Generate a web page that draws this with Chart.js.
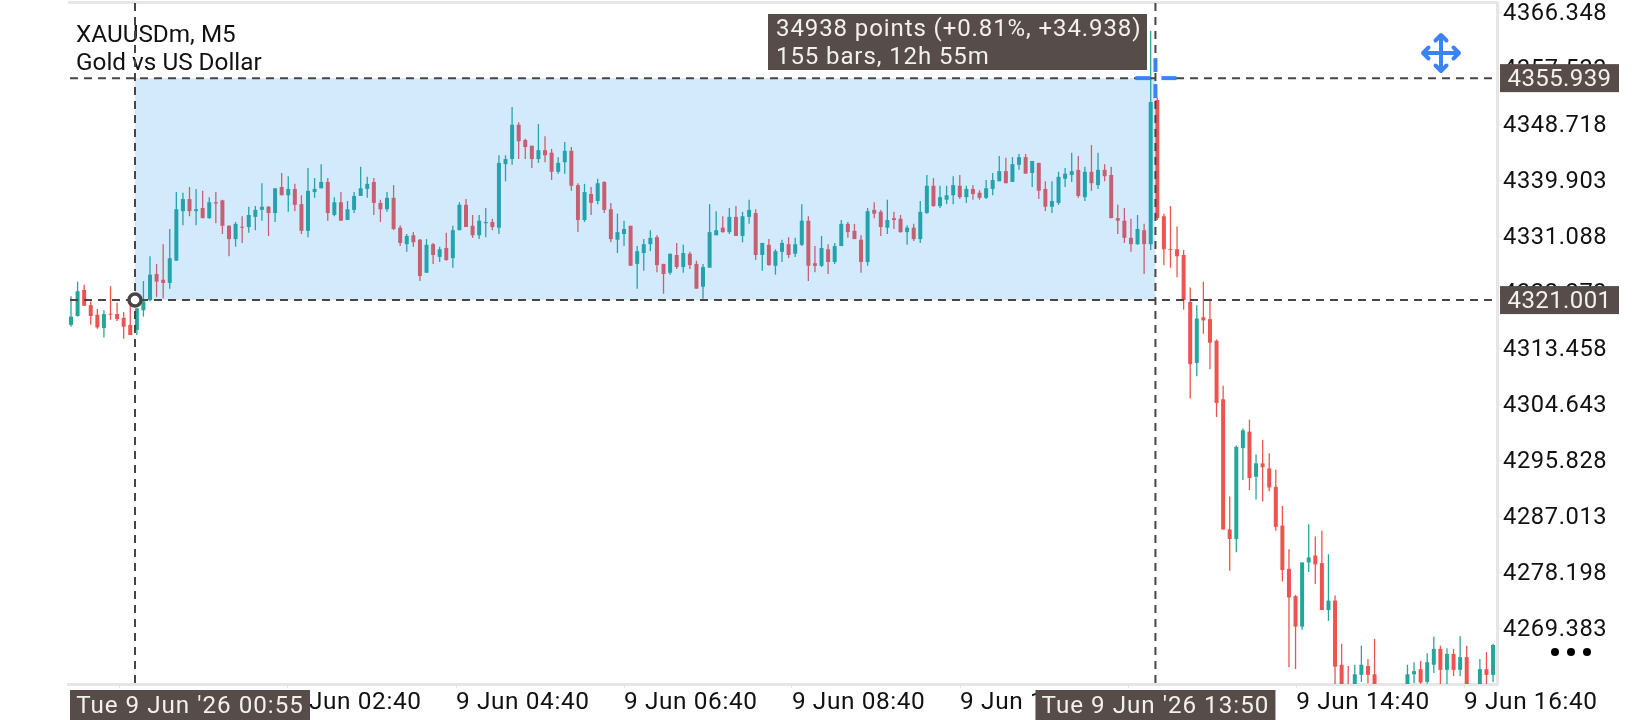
<!DOCTYPE html>
<html>
<head>
    <title>XAUUSDm, M5</title>
    <script src="https://cdn.jsdelivr.net/npm/chart.js"></script>
    <style>
        html, body { margin: 0; padding: 0; background: #fff; }
        canvas { display: block; }
    </style>
</head>
<body>
    <canvas id="chart" width="1640" height="720"></canvas>

    <script>
        // candles, one entry per 5 minute bar
        const opens = [
            4317.1,4318.5,4322.6,4320.2,4318.7,4316.6,4318.8,4318.8,4318.2,4317.1,
            4316.3,4319.4,4321.0,4325.1,4324.2,4323.7,4327.2,4335.0,4336.9,4335.0,
            4335.5,4333.9,4336.4,4336.7,4332.7,4330.6,4332.5,4332.5,4334.1,4335.2,
            4335.7,4334.7,4338.8,4337.5,4338.5,4336.1,4331.9,4338.0,4338.6,4339.6,
            4334.4,4336.4,4333.6,4335.2,4337.4,4338.5,4339.6,4336.3,4335.3,4337.1,
            4332.4,4329.8,4331.2,4330.5,4325.3,4329.8,4327.8,4329.2,4327.6,4332.0,
            4336.0,4332.7,4331.2,4333.1,4333.3,4332.4,4342.4,4343.2,4348.6,4346.2,
            4345.3,4343.2,4344.6,4344.2,4341.2,4342.7,4344.5,4339.1,4333.6,4337.7,
            4336.6,4339.6,4335.3,4330.5,4331.4,4332.7,4326.7,4328.4,4329.8,4330.9,
            4326.7,4325.3,4328.1,4326.2,4328.3,4326.7,4323.1,4326.1,4331.2,4332.4,
            4331.7,4334.1,4331.1,4334.1,4334.7,4328.1,4329.7,4326.4,4328.6,4329.8,
            4328.3,4329.7,4333.5,4326.8,4326.4,4329.0,4327.0,4329.5,4333.0,4331.9,
            4330.5,4327.0,4335.2,4334.9,4332.4,4333.9,4333.8,4331.7,4332.4,4330.6,
            4334.7,4339.0,4335.8,4336.8,4337.5,4339.0,4337.2,4338.5,4337.9,4337.1,
            4338.5,4339.7,4341.3,4339.6,4342.3,4343.5,4341.0,4342.6,4338.5,4335.7,
            4336.3,4340.1,4340.7,4341.5,4337.2,4341.2,4339.1,4341.5,4340.7,4333.9,
            4333.5,4330.8,4329.8,4332.0,4329.8,4352.5,4334.2,4329.0,4329.0,4328.1,
            4320.7,4311.1,4318.3,4318.0,4314.6,4305.4,4284.9,4283.4,4297.7,4300.3,
            4293.2,4295.3,4294.5,4291.6,4285.5,4278.7,4274.4,4269.6,4279.7,4280.8,
            4279.6,4272.2,4273.7,4263.6,4260.0,4259.6,4262.0,4263.4,4262.1,4259.8,
            4258.2,4257.1,4258.4,4259.4,4262.1,4262.9,4260.9,4263.6,4266.1,4262.8,
            4265.3,4262.8,4264.8,4260.3,4260.2,4262.9,4262.0
        ];
        const closes = [
            4318.4,4322.4,4320.1,4318.5,4316.7,4318.8,4318.7,4318.0,4316.8,4315.5,
            4319.7,4320.8,4325.0,4323.9,4323.7,4327.6,4335.3,4336.9,4335.0,4335.3,
            4333.9,4336.4,4336.2,4332.7,4330.6,4333.0,4332.4,4334.4,4335.2,4335.7,
            4334.7,4338.6,4337.5,4338.5,4336.0,4331.9,4338.2,4338.5,4339.6,4334.7,
            4336.4,4333.5,4335.3,4337.4,4338.6,4339.3,4336.3,4335.3,4337.1,4332.2,
            4330.0,4331.1,4330.1,4324.8,4329.7,4328.1,4329.0,4327.3,4332.0,4336.0,
            4332.5,4331.2,4333.5,4333.3,4332.5,4342.6,4343.2,4348.6,4346.0,4345.1,
            4343.2,4344.6,4343.8,4341.2,4342.6,4344.5,4339.0,4333.6,4338.0,4336.3,
            4339.4,4335.2,4330.6,4331.7,4332.2,4326.4,4328.7,4329.8,4330.8,4326.5,
            4325.1,4328.3,4326.2,4328.4,4326.5,4322.8,4326.2,4331.7,4332.0,4331.7,
            4334.1,4331.1,4334.2,4335.2,4328.1,4330.0,4326.5,4328.7,4330.0,4328.1,
            4329.8,4333.5,4326.4,4326.4,4329.2,4327.0,4329.5,4333.0,4331.7,4330.6,
            4327.0,4335.0,4334.6,4332.5,4333.6,4333.6,4331.7,4332.4,4330.6,4334.9,
            4339.0,4335.8,4337.2,4337.5,4339.1,4337.2,4338.5,4337.7,4337.1,4338.6,
            4339.9,4341.3,4339.4,4342.4,4343.5,4340.9,4342.9,4338.2,4335.7,4336.6,
            4340.4,4340.9,4341.3,4337.4,4341.2,4339.4,4341.5,4340.5,4333.9,4333.5,
            4330.8,4329.8,4332.2,4329.8,4352.2,4333.9,4329.0,4328.9,4327.9,4321.0,
            4310.9,4318.1,4317.8,4314.3,4304.8,4284.9,4283.4,4297.9,4300.5,4293.0,
            4295.3,4294.7,4291.5,4285.3,4278.5,4274.2,4269.6,4279.7,4280.5,4279.4,
            4272.2,4273.7,4263.3,4260.0,4259.0,4262.1,4263.6,4262.0,4259.8,4258.2,
            4257.1,4258.4,4259.4,4262.1,4262.6,4260.8,4264.0,4266.1,4262.8,4265.3,
            4262.8,4264.8,4260.3,4259.0,4262.9,4262.0,4266.7
        ];
        const highs = [
            4321.6,4323.9,4323.4,4320.8,4319.6,4319.4,4323.2,4320.6,4319.1,4320.5,
            4319.7,4324.0,4327.9,4326.7,4329.8,4332.2,4338.0,4337.9,4338.8,4338.5,
            4338.2,4337.2,4338.0,4336.8,4332.8,4333.3,4334.2,4335.7,4335.8,4339.4,
            4335.8,4338.6,4341.0,4340.5,4339.3,4337.5,4341.8,4340.2,4342.4,4340.2,
            4337.2,4338.0,4336.6,4338.0,4342.0,4340.4,4340.2,4336.8,4338.0,4339.1,
            4332.8,4331.4,4331.7,4330.6,4330.6,4330.0,4329.4,4331.6,4332.7,4336.4,
            4336.9,4334.4,4334.4,4335.5,4333.8,4343.8,4343.8,4351.4,4349.0,4346.4,
            4345.3,4348.7,4346.8,4344.8,4343.5,4345.9,4345.1,4339.4,4339.3,4338.8,
            4340.1,4339.7,4336.3,4334.6,4333.5,4332.7,4329.5,4330.6,4332.0,4331.2,
            4326.7,4328.3,4330.0,4329.7,4328.6,4327.2,4326.7,4336.1,4335.0,4334.2,
            4335.5,4335.8,4334.9,4336.8,4335.3,4330.0,4330.6,4329.0,4330.5,4330.9,
            4330.8,4336.1,4334.2,4329.5,4331.1,4329.8,4330.0,4333.6,4333.3,4333.0,
            4331.2,4335.5,4336.4,4335.2,4336.8,4334.9,4334.4,4332.8,4333.0,4336.6,
            4340.7,4340.2,4339.0,4339.0,4340.5,4340.7,4339.0,4339.1,4338.3,4339.9,
            4341.0,4343.7,4343.4,4343.5,4344.0,4344.0,4342.9,4342.6,4339.7,4339.7,
            4341.2,4341.8,4344.2,4343.7,4342.0,4345.4,4344.2,4342.4,4342.0,4336.0,
            4335.5,4333.8,4334.4,4333.0,4363.4,4352.8,4334.6,4335.8,4332.6,4328.9,
            4323.0,4320.2,4323.9,4321.2,4314.8,4307.5,4290.1,4298.1,4300.8,4302.2,
            4296.7,4299.0,4296.9,4294.3,4288.6,4281.8,4274.6,4279.7,4285.7,4283.8,
            4284.7,4281.0,4274.5,4266.9,4263.4,4263.6,4266.6,4264.5,4267.7,4260.2,
            4259.0,4259.2,4260.0,4263.6,4264.0,4264.2,4265.4,4268.0,4266.6,4266.2,
            4266.1,4268.1,4266.6,4260.4,4264.5,4265.6,4266.9
        ];
        const lows = [
            4316.8,4318.4,4320.1,4317.1,4316.5,4315.1,4317.9,4317.7,4314.9,4315.5,
            4315.5,4318.4,4320.8,4321.5,4321.3,4322.8,4327.2,4332.8,4334.2,4332.8,
            4333.9,4333.8,4333.1,4331.4,4327.9,4329.4,4330.0,4331.6,4332.0,4333.5,
            4331.1,4333.3,4337.5,4334.9,4335.0,4331.4,4330.9,4337.1,4338.6,4333.5,
            4334.2,4333.5,4333.6,4334.7,4337.4,4337.1,4334.4,4333.3,4334.9,4332.0,
            4329.5,4328.6,4329.4,4324.0,4325.3,4326.7,4327.0,4327.2,4326.1,4332.0,
            4332.5,4330.8,4330.6,4330.9,4332.0,4331.4,4339.7,4342.3,4343.2,4343.2,
            4341.8,4342.6,4342.7,4339.9,4340.9,4340.9,4338.2,4331.7,4333.3,4334.4,
            4336.1,4334.7,4330.1,4328.4,4329.5,4326.4,4322.8,4325.6,4328.7,4325.4,
            4322.0,4325.0,4325.9,4325.3,4325.9,4322.8,4321.2,4326.1,4331.2,4331.6,
            4331.4,4331.1,4330.1,4333.0,4327.3,4325.6,4326.4,4325.0,4327.0,4327.6,
            4327.8,4329.5,4324.0,4325.4,4326.2,4325.1,4326.7,4329.5,4330.8,4330.6,
            4325.3,4326.4,4333.9,4331.1,4331.4,4332.2,4331.6,4329.7,4330.3,4330.0,
            4334.6,4335.7,4335.5,4336.1,4336.1,4336.9,4336.3,4336.8,4336.8,4336.9,
            4337.5,4339.7,4339.4,4339.6,4341.5,4340.9,4338.8,4336.9,4335.0,4334.7,
            4336.0,4338.8,4339.6,4337.1,4336.6,4338.2,4338.5,4339.7,4333.9,4331.4,
            4330.0,4328.6,4329.7,4325.1,4328.9,4333.6,4326.5,4326.1,4324.6,4319.5,
            4305.5,4309.0,4315.7,4310.1,4302.6,4284.9,4278.4,4281.3,4292.7,4291.1,
            4289.6,4289.3,4290.9,4284.7,4276.7,4263.2,4262.9,4269.1,4278.2,4276.3,
            4272.2,4270.5,4259.9,4258.9,4258.5,4259.0,4260.9,4260.7,4259.0,4257.5,
            4256.6,4256.3,4257.8,4259.0,4260.7,4260.6,4260.6,4262.3,4260.2,4260.2,
            4261.8,4261.8,4260.0,4258.0,4259.8,4260.3,4260.9
        ];

        // axes
        const priceTicks = [4366.348, 4357.533, 4348.718, 4339.903, 4331.088, 4322.273, 4313.458, 4304.643, 4295.828, 4287.013, 4278.198, 4269.383];
        const timeTicks = [7.44, 32.96, 58.48, 84.0, 109.5, 135.05, 160.6, 186.1, 211.6];
        const timeLabels = ['9 Jun 00:40', '9 Jun 02:40', '9 Jun 04:40', '9 Jun 06:40', '9 Jun 08:40', '9 Jun 10:40', '9 Jun 12:40', '9 Jun 14:40', '9 Jun 16:40'];

        // measurement tool
        const measureStartBar = 9.72;
        const measureBars = 155;
        const priceFrom = 4321.001;
        const priceTo = 4355.939;
        const startLabel = "Tue 9 Jun '26 00:55";
        const endLabel = "Tue 9 Jun '26 13:50";
        const measureLines = ['34938 points (+0.81%, +34.938)', '155 bars, 12h 55m'];
        const titleLines = ['XAUUSDm, M5', 'Gold vs US Dollar'];

        const UP = '#26a69a';
        const DOWN = '#ef5350';
        const FRAME = '#e6e6e6';
        const DARK = '#564c4a';
        const LINE = '#4a4444';
        const BLUE = '#3b82f6';
        const FONT = 'Roboto, sans-serif';

        const candleColors = opens.map((o, i) => closes[i] >= o ? UP : DOWN);

        function tag(ctx, text, left, top, w, h, size, spacing) {
            ctx.fillStyle = DARK;
            ctx.fillRect(left, top, w, h);
            ctx.fillStyle = '#f4f0ec';
            ctx.font = size + 'px ' + FONT;
            ctx.letterSpacing = spacing + 'px';
            ctx.textAlign = 'center';
            ctx.textBaseline = 'middle';
            ctx.fillText(text, left + w / 2, top + h / 2 + 2);
            ctx.letterSpacing = '0px';
        }

        function moveIcon(ctx, cx, cy) {
            const arm = 18, head = 5.5;
            ctx.strokeStyle = BLUE;
            ctx.lineWidth = 4;
            ctx.lineCap = 'round';
            ctx.lineJoin = 'round';
            ctx.beginPath();
            ctx.moveTo(cx - arm, cy); ctx.lineTo(cx + arm, cy);
            ctx.moveTo(cx, cy - arm); ctx.lineTo(cx, cy + arm);
            [[1, 0], [-1, 0], [0, 1], [0, -1]].forEach(([dx, dy]) => {
                const tipX = cx + dx * arm, tipY = cy + dy * arm;
                ctx.moveTo(tipX - dx * head + dy * head, tipY - dy * head + dx * head);
                ctx.lineTo(tipX, tipY);
                ctx.lineTo(tipX - dx * head - dy * head, tipY - dy * head - dx * head);
            });
            ctx.stroke();
        }

        const overlay = {
            id: 'overlay',
            beforeDraw(chart) {
                // the app spaces its axis text a little wider than plain Roboto
                chart.ctx.letterSpacing = '0.6px';
            },
            beforeDatasetsDraw(chart) {
                const { ctx, chartArea: a } = chart;
                ctx.save();
                ctx.fillStyle = FRAME;
                ctx.fillRect(a.left, 1, a.right - a.left + 1, 3);
                ctx.restore();
            },
            afterDatasetsDraw(chart) {
                const { ctx, chartArea: a, scales: { x, y } } = chart;
                const x0 = x.getPixelForValue(measureStartBar);
                const x1 = x.getPixelForValue(measureStartBar + measureBars);
                const yTop = y.getPixelForValue(priceTo);
                const yBot = y.getPixelForValue(priceFrom);

                ctx.save();
                ctx.letterSpacing = '0px';
                // selection, drawn over the candles like the app does
                ctx.fillStyle = 'rgba(33, 150, 243, 0.2)';
                ctx.fillRect(x0, yTop, x1 - x0, yBot - yTop);

                // title
                ctx.fillStyle = '#111';
                ctx.font = '24.3px ' + FONT;
                ctx.textAlign = 'left';
                ctx.textBaseline = 'alphabetic';
                ctx.fillText(titleLines[0], 76, 42);
                ctx.fillText(titleLines[1], 76, 69.5);

                // dashed crosshair lines
                ctx.strokeStyle = LINE;
                ctx.lineWidth = 2;
                ctx.setLineDash([8, 6]);
                ctx.beginPath();
                ctx.moveTo(a.left + 2, yTop); ctx.lineTo(a.right, yTop);
                ctx.moveTo(a.left + 2, yBot); ctx.lineTo(a.right, yBot);
                ctx.moveTo(x0, a.top); ctx.lineTo(x0, a.bottom);
                ctx.moveTo(x1, a.top); ctx.lineTo(x1, a.bottom);
                ctx.stroke();
                ctx.setLineDash([]);

                // blue cursor on the end point
                ctx.fillStyle = BLUE;
                ctx.fillRect(x1 - 20, yTop - 2, 15, 4);
                ctx.fillRect(x1 + 6, yTop - 2, 15, 4);
                ctx.fillRect(x1 - 2, yTop - 20, 4, 14);
                ctx.fillRect(x1 - 2, yTop + 6, 4, 14);

                // start point marker
                ctx.beginPath();
                ctx.arc(x0, yBot, 6, 0, Math.PI * 2);
                ctx.fillStyle = '#fff';
                ctx.fill();
                ctx.lineWidth = 3.5;
                ctx.stroke();

                // measure box
                ctx.fillStyle = DARK;
                ctx.fillRect(768, 14, 379, 56);
                ctx.fillStyle = '#f4f0ec';
                ctx.font = '24px ' + FONT;
                ctx.letterSpacing = '0.9px';
                ctx.textAlign = 'left';
                ctx.fillText(measureLines[0], 776, 36);
                ctx.fillText(measureLines[1], 776, 64);
                ctx.letterSpacing = '0px';

                // axis tags
                tag(ctx, priceTo.toFixed(3), 1500, yTop - 14, 119, 28, 24, 0.4);
                tag(ctx, priceFrom.toFixed(3), 1500, yBot - 14, 119, 28, 24, 0.4);
                tag(ctx, startLabel, 70, 690, 240, 30, 24.2, 1);
                tag(ctx, endLabel, x1 - 120, 690, 240, 30, 24.2, 1);

                moveIcon(ctx, 1441, 53);

                // menu dots
                ctx.fillStyle = '#000';
                [1555, 1571, 1587].forEach(cx => {
                    ctx.beginPath();
                    ctx.arc(cx, 652, 4, 0, Math.PI * 2);
                    ctx.fill();
                });
                ctx.restore();
            }
        };

        function noPadding(scale) {
            scale.paddingTop = 0;
            scale.paddingBottom = 0;
            scale.paddingLeft = 0;
            scale.paddingRight = 0;
        }

        new Chart(document.getElementById('chart').getContext('2d'), {
            type: 'bar',
            data: {
                datasets: [
                    {
                        label: 'wick',
                        data: highs.map((h, i) => ({ x: i, y: [lows[i], h] })),
                        backgroundColor: candleColors,
                        maxBarThickness: 1.3
                    },
                    {
                        label: 'body',
                        data: opens.map((o, i) => ({ x: i, y: [o, closes[i]] })),
                        backgroundColor: candleColors,
                        maxBarThickness: 4,
                        minBarLength: 1
                    }
                ]
            },
            options: {
                responsive: false,
                animation: false,
                devicePixelRatio: 1,
                grouped: false,
                inflateAmount: 0,
                layout: { padding: { left: 68, top: 3, right: 0, bottom: 0 } },
                plugins: { legend: { display: false }, tooltip: { enabled: false } },
                scales: {
                    x: {
                        type: 'linear',
                        offset: false,
                        min: -0.456,
                        max: 216.6,
                        afterBuildTicks: s => { s.ticks = timeTicks.map(v => ({ value: v })); },
                        afterFit: s => { s.height = 36; noPadding(s); },
                        border: { color: FRAME, width: 3 },
                        grid: { offset: false, drawOnChartArea: false, color: FRAME, tickLength: 4, tickWidth: 1 },
                        ticks: {
                            autoSkip: false,
                            maxRotation: 0,
                            align: 'start',
                            padding: 0,
                            color: '#111',
                            font: { family: FONT, size: 24.4 },
                            callback: (v, i) => timeLabels[i]
                        }
                    },
                    y: {
                        position: 'right',
                        min: 4260.57,
                        max: 4367.765,
                        afterBuildTicks: s => { s.ticks = priceTicks.map(v => ({ value: v })); },
                        afterFit: s => { s.width = 143; noPadding(s); },
                        border: { color: FRAME, width: 3 },
                        grid: { drawOnChartArea: false, color: FRAME, tickLength: 5, tickWidth: 1 },
                        ticks: {
                            autoSkip: false,
                            padding: 1,
                            color: '#111',
                            // empty first line with a 4px line height drops the digits 2px onto the tick
                            font: { family: FONT, size: 23.7, lineHeight: '4px' },
                            callback: v => ['', v.toFixed(3)]
                        }
                    }
                }
            },
            plugins: [overlay]
        });
    </script>
</body>
</html>
